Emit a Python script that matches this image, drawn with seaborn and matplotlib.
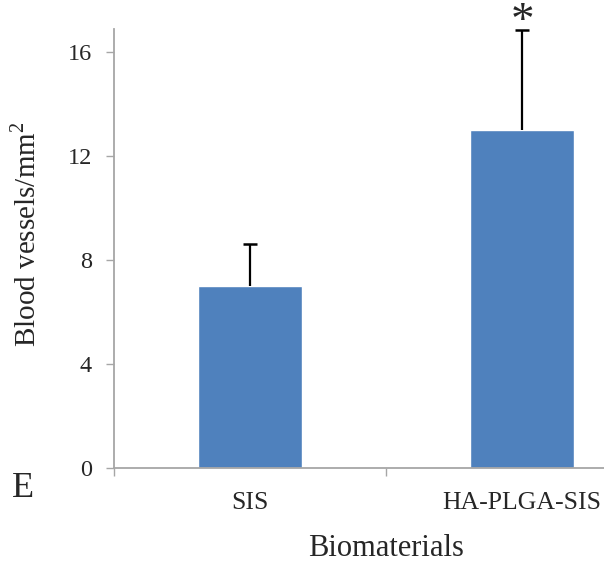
import matplotlib
matplotlib.use("Agg")
import matplotlib.pyplot as plt
import seaborn as sns

# values
materials = ["SIS", "HA-PLGA-SIS"]
vessels = [7.0, 13.0]
vessels_err = [1.6, 3.85]
y_ticks = [0, 4, 8, 12, 16]

sns.set_style("white")
plt.rcParams['font.family'] = ['Liberation Serif', 'DejaVu Serif']
plt.rcParams['mathtext.fontset'] = 'custom'
plt.rcParams['mathtext.rm'] = 'Liberation Serif'

fig = plt.figure(figsize=(6.04, 5.68), dpi=100)
# axes run past the right edge, like the cropped original
ax = fig.add_axes([114 / 604, 100 / 568, 544 / 604, 439 / 568])

sns.barplot(x=materials, y=vessels, color="#4F81BD", saturation=1,
            width=0.38, errorbar=None, ax=ax)
eb = ax.errorbar([0, 1], vessels, yerr=[[0, 0], vessels_err], fmt="none",
                 ecolor="black", elinewidth=1.6, capsize=4.8, capthick=1.8)
# only the upper caps are drawn in the original
eb[1][0].set_visible(False)

ax.set_xlim(-0.5, 1.5)
ax.set_ylim(0, 16.88)
ax.set_yticks(y_ticks)
ax.set_xticks([0, 1])
ax.set_xticks([-0.5, 0.5, 1.5], minor=True)

grey = "#A6A6A6"
for side in ["top", "right"]:
    ax.spines[side].set_visible(False)
for side in ["left", "bottom"]:
    ax.spines[side].set_color(grey)
    ax.spines[side].set_linewidth(1.3)

ax.tick_params(axis="y", which="major", left=True, length=6, width=1,
               color=grey, pad=10, labelsize=17.5)
ax.tick_params(axis="x", which="major", bottom=True, length=0, pad=17,
               labelsize=18.5)
ax.tick_params(axis="x", which="minor", bottom=True, length=5.5, width=1,
               color=grey)

ax.set_xlabel("Biomaterials", fontsize=22)
ax.xaxis.set_label_coords(0.5, -0.15)
ax.set_ylabel("")
fig.text(26 / 604, 1 - 234 / 568, r"Blood vessels/mm$^{\mathrm{2}}$",
         rotation=90, ha="center", va="center", fontsize=21)

ax.text(1, 16.67, "*", ha="center", va="baseline", fontsize=34,
        clip_on=False)
fig.text(12 / 604, 1 - 497 / 568, "E", ha="left", va="baseline",
         fontsize=26)

fig.savefig("out.png", dpi=100)
